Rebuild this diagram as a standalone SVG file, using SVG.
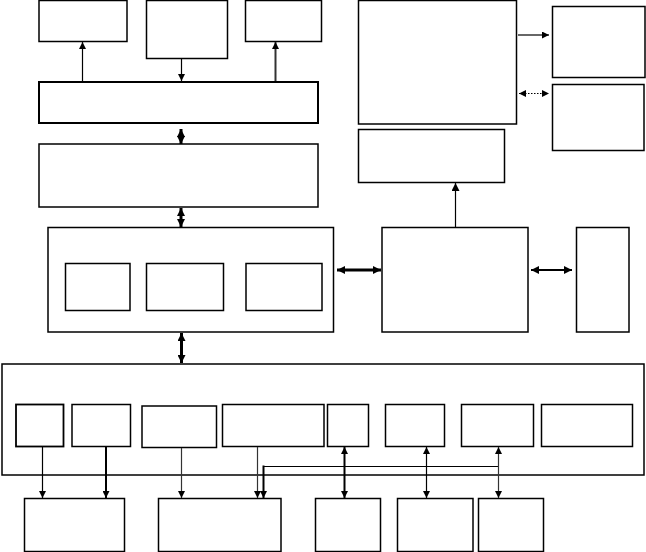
<svg xmlns="http://www.w3.org/2000/svg" width="646" height="552" viewBox="0 0 646 552">
<style>
.box{fill:#fff;stroke:#000;stroke-width:1.5}
.thk{stroke-width:2}
.c{fill:none;stroke:#000;stroke-width:1.2}
.c2{stroke-width:2}
.c3{stroke-width:3}
.gray{stroke:#333}
.dot{stroke-dasharray:1.5 1.5}
</style>
<defs>
<marker id="ah" viewBox="0 0 6 6" markerWidth="7" markerHeight="7" refX="6" refY="3" orient="auto-start-reverse" markerUnits="userSpaceOnUse">
<path d="M0,0 L6,3 L0,6 z" fill="#000"/>
</marker>
<marker id="ahb" viewBox="0 0 6 6" markerWidth="8" markerHeight="8" refX="6" refY="3" orient="auto-start-reverse" markerUnits="userSpaceOnUse">
<path d="M0,0 L6,3 L0,6 z" fill="#000"/>
</marker>
</defs>
<rect width="646" height="552" fill="#fff"/>
<g id="nodes">
<g id="nA"><rect class="box" x="39" y="0.5" width="88" height="41"/></g>
<g id="nB"><rect class="box" x="146.5" y="0.5" width="81" height="58"/></g>
<g id="nC"><rect class="box" x="245.5" y="0.5" width="76" height="41"/></g>
<g id="nD"><rect class="box thk" x="39" y="82" width="279" height="41"/></g>
<g id="nE"><rect class="box" x="39" y="144" width="279" height="63"/></g>
<g id="nF"><rect class="box" x="358.5" y="0.5" width="158" height="123.5"/></g>
<g id="nG"><rect class="box" x="358.5" y="129.5" width="146" height="53"/></g>
<g id="nH1"><rect class="box" x="552.5" y="6.5" width="92.5" height="71"/></g>
<g id="nH2"><rect class="box" x="552.5" y="84.5" width="91.5" height="66"/></g>
<g id="nJ"><rect class="box" x="48" y="227.5" width="285.5" height="104.5"/></g>
<g id="nJ1"><rect class="box" x="65.5" y="263.5" width="64.5" height="47"/></g>
<g id="nJ2"><rect class="box" x="146.5" y="263.5" width="77" height="47"/></g>
<g id="nJ3"><rect class="box" x="246" y="263.5" width="76" height="47"/></g>
<g id="nI"><rect class="box" x="382" y="227.5" width="146" height="104.5"/></g>
<g id="nK"><rect class="box" x="576.5" y="227.5" width="52.5" height="104.5"/></g>
<g id="nL"><rect class="box" x="2" y="364" width="642" height="111"/></g>
<g id="b1"><rect class="box" style="stroke-width:1.8" x="16" y="404.5" width="47.5" height="42"/></g>
<g id="b2"><rect class="box" x="72" y="404.5" width="58.5" height="42"/></g>
<g id="b3"><rect class="box" x="142" y="406" width="74.5" height="41.5"/></g>
<g id="b4"><rect class="box" x="222.5" y="404.5" width="101.5" height="42"/></g>
<g id="b5"><rect class="box" x="327.5" y="404.5" width="41" height="42"/></g>
<g id="b6"><rect class="box" x="385.5" y="404.5" width="59" height="42"/></g>
<g id="b7"><rect class="box" x="461.5" y="404.5" width="72" height="42"/></g>
<g id="b8"><rect class="box" x="541.5" y="404.5" width="91" height="42"/></g>
<g id="c1"><rect class="box" x="24.5" y="498.5" width="100" height="53"/></g>
<g id="c2"><rect class="box" x="158.5" y="498.5" width="122.5" height="53"/></g>
<g id="c3"><rect class="box" x="315.5" y="498.5" width="65" height="53"/></g>
<g id="c4"><rect class="box" x="397.5" y="498.5" width="75.5" height="53"/></g>
<g id="c5"><rect class="box" x="478.5" y="498.5" width="65" height="53"/></g>
</g>
<g id="connectors">
<line class="c" x1="82.5" y1="81" x2="82.5" y2="42" marker-end="url(#ah)"/>
<line class="c" x1="181.5" y1="59" x2="181.5" y2="81" marker-end="url(#ah)"/>
<line class="c gray c2" x1="275.5" y1="81" x2="275.5" y2="42" marker-end="url(#ah)"/>
<line class="c c3" x1="181" y1="129" x2="181" y2="144" marker-start="url(#ahb)" marker-end="url(#ahb)"/>
<line class="c c3" x1="181" y1="208" x2="181" y2="227" marker-start="url(#ahb)" marker-end="url(#ahb)"/>
<line class="c c3" x1="181.5" y1="333" x2="181.5" y2="363" marker-start="url(#ahb)" marker-end="url(#ahb)"/>
<line class="c c3" x1="337" y1="270" x2="381" y2="270" marker-start="url(#ahb)" marker-end="url(#ahb)"/>
<line class="c c2" x1="531" y1="270" x2="572" y2="270" marker-start="url(#ahb)" marker-end="url(#ahb)"/>
<line class="c" x1="455.5" y1="227" x2="455.5" y2="183" marker-end="url(#ahb)"/>
<line class="c" x1="518" y1="35" x2="549" y2="35" marker-end="url(#ah)"/>
<line class="c dot" x1="519" y1="93.5" x2="549" y2="93.5" marker-start="url(#ah)" marker-end="url(#ah)"/>
<line class="c" x1="42.5" y1="447" x2="42.5" y2="498" marker-end="url(#ah)"/>
<line class="c c2" x1="106" y1="447" x2="106" y2="498" marker-end="url(#ah)"/>
<line class="c gray" x1="181.5" y1="448" x2="181.5" y2="498" marker-end="url(#ah)"/>
<line class="c gray" x1="257.5" y1="447" x2="257.5" y2="498" marker-end="url(#ah)"/>
<path class="c" d="M498.5,466.5 H263.5"/>
<line class="c c2" x1="263.5" y1="465.5" x2="263.5" y2="498" marker-end="url(#ah)"/>
<line class="c gray" x1="498.5" y1="447" x2="498.5" y2="498" marker-start="url(#ah)" marker-end="url(#ah)"/>
<line class="c c2" x1="344.5" y1="447" x2="344.5" y2="498" marker-start="url(#ah)" marker-end="url(#ah)"/>
<line class="c" x1="426.5" y1="447" x2="426.5" y2="498" marker-start="url(#ah)" marker-end="url(#ah)"/>
</g>
</svg>
